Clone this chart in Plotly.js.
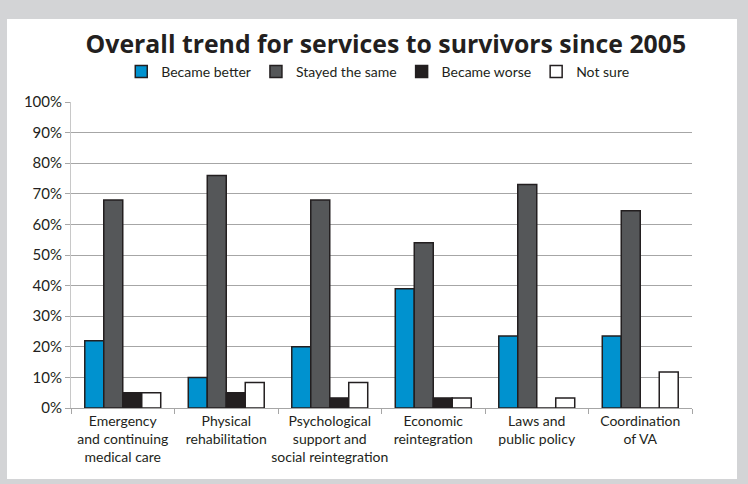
<!DOCTYPE html>
<html>
<head>
<meta charset="utf-8">
<script src="https://cdn.plot.ly/plotly-3.0.1.min.js"></script>
<style>
  html, body { margin: 0; padding: 0; background: #d3d4d6; width: 748px; height: 484px; overflow: hidden; }
  #chart { position: absolute; left: 7px; top: 19px; width: 730px; height: 460px; }
</style>
</head>
<body>
<div id="chart"></div>
<script>
const categories = [
  "Emergency<br>and continuing<br>medical care",
  "Physical<br>rehabilitation",
  "Psychological<br>support and<br>social reintegration",
  "Economic<br>reintegration",
  "Laws and<br>public policy",
  "Coordination<br>of VA"
];
const seriesNames = ["Became better", "Stayed the same", "Became worse", "Not sure"];
const becameBetter = [22, 10, 20, 39, 23.5, 23.5];
const stayedSame = [68, 76, 68, 54, 73, 64.5];
const becameWorse = [5, 5, 3.3, 3.3, 0, 0];
const notSure = [5, 8.3, 8.3, 3.3, 3.3, 11.8];
const yTickVals = [0, 10, 20, 30, 40, 50, 60, 70, 80, 90, 100];
const yTickText = ["0%", "10%", "20%", "30%", "40%", "50%", "60%", "70%", "80%", "90%", "100%"];

const colors = ["#0092cf", "#555759", "#231f20", "#ffffff"];
const allSeries = [becameBetter, stayedSame, becameWorse, notSure];
const FONT = "Lato, 'Open Sans', sans-serif";

const traces = allSeries.map((vals, i) => ({
  type: "bar",
  name: seriesNames[i],
  x: categories,
  y: vals,
  marker: { color: colors[i], line: { color: "#231f20", width: 1.5 } },
  hoverinfo: "skip"
}));

const layout = {
  width: 730,
  height: 460,
  margin: { l: 64, r: 45, t: 83, b: 71 },
  paper_bgcolor: "#ffffff",
  plot_bgcolor: "rgba(0,0,0,0)",
  font: { family: FONT, color: "#231f20", size: 15 },
  title: {
    text: "<b>Overall trend for services to survivors since 2005</b>",
    font: { family: "'Open Sans', sans-serif", size: 24.8, color: "#231f20" },
    xref: "container", x: 0.519, xanchor: "center",
    yref: "container", y: 1 - 25 / 460, yanchor: "middle"
  },
  showlegend: true,
  legend: {
    orientation: "h",
    x: 0.494, xanchor: "center",
    y: 1.098, yanchor: "middle",
    font: { family: FONT, size: 14, color: "#231f20" },
    itemwidth: 30,
    traceorder: "normal"
  },
  barmode: "group",
  bargap: 0.266,
  bargroupgap: 0,
  xaxis: {
    type: "category",
    showline: true, linecolor: "#a6a6a6", linewidth: 1,
    ticks: "outside", tickson: "boundaries", ticklen: 5, tickcolor: "#a6a6a6",
    tickangle: 0,
    tickfont: { family: FONT, size: 14, color: "#231f20" },
    showgrid: false, zeroline: false
  },
  yaxis: {
    range: [0, 100],
    tickmode: "array",
    tickvals: yTickVals,
    ticktext: yTickText,
    showline: true, linecolor: "#c8c8c8", linewidth: 1,
    ticks: "outside", ticklen: 5, tickcolor: "#a6a6a6",
    showgrid: true, gridcolor: "#a6a6a6", gridwidth: 1,
    zeroline: false,
    tickfont: { family: FONT, size: 15, color: "#231f20" }
  }
};

Plotly.newPlot("chart", traces, layout, { displayModeBar: false, staticPlot: true });
</script>
</body>
</html>
